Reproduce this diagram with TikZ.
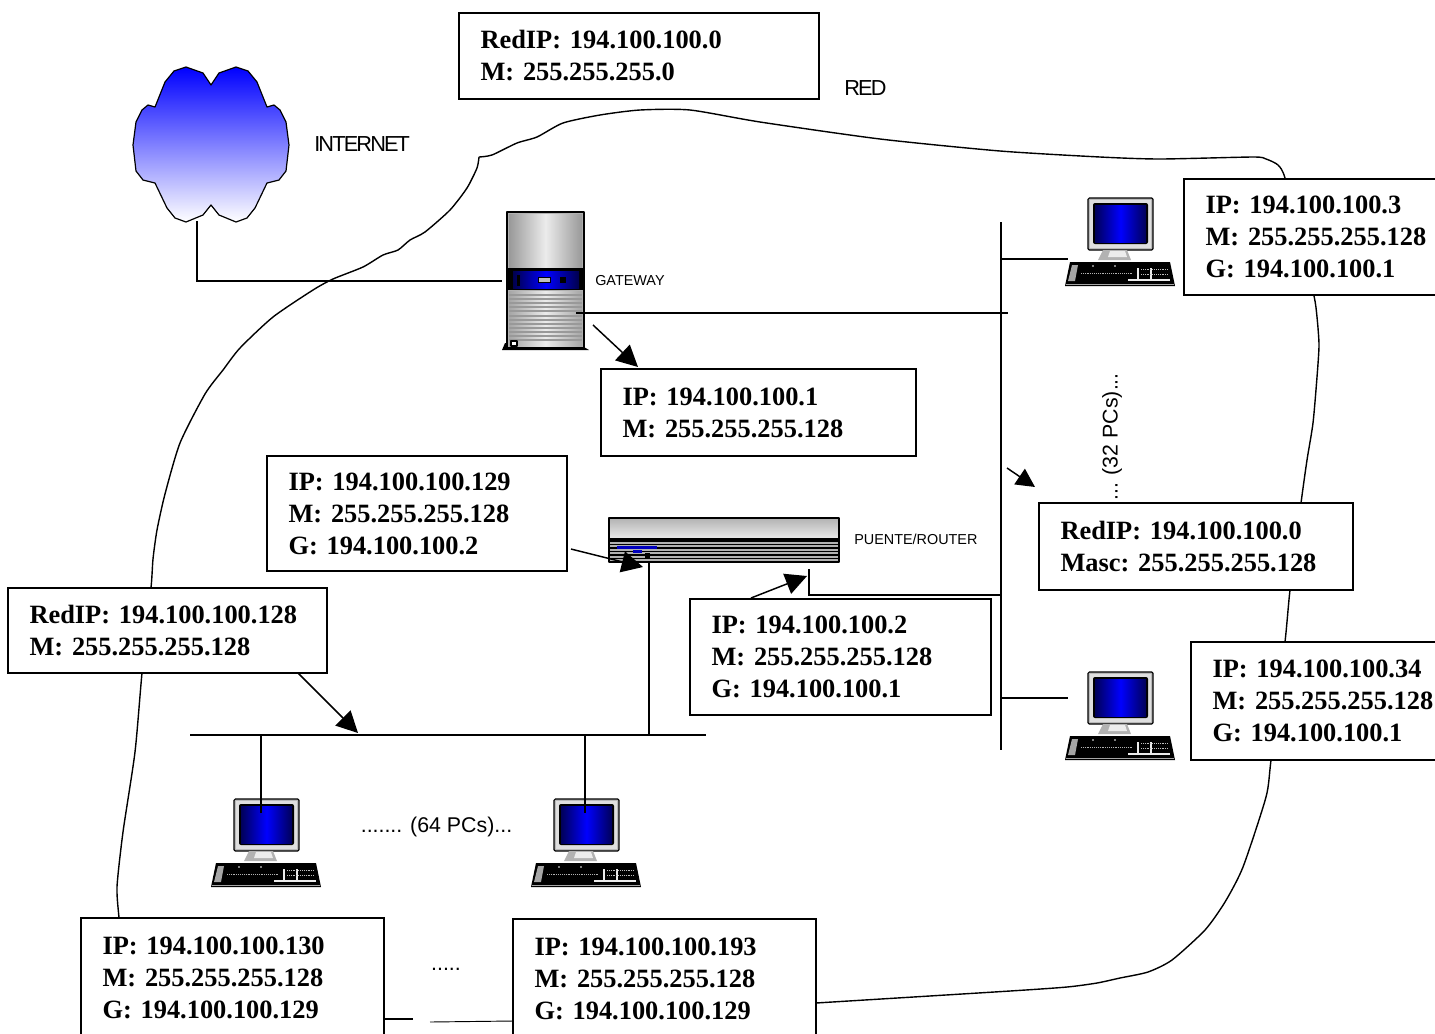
\documentclass[tikz,border=0pt]{standalone}
\usepackage{fontspec}
\setmainfont{Liberation Serif}
\setsansfont{Liberation Sans}
\newfontfamily\tightsans[LetterSpace=-8.5]{Liberation Sans}
\usetikzlibrary{arrows.meta}
\tikzset{
  x=0.75pt,y=-0.75pt,
  infobox/.style 2 args={draw=black,fill=white,line width=1.1pt,inner sep=0pt,align=left,
    minimum width={#1*0.75pt},minimum height={#2*0.75pt},text width={(#1-43)*0.75pt},
    font=\fontsize{19.8}{24}\selectfont\bfseries\frenchspacing},
  tightlabel/.style={inner sep=0pt,font=\tightsans\fontsize{16.3}{18}\selectfont},
  smalllabel/.style={inner sep=0pt,font=\sffamily\fontsize{10.8}{12}\selectfont},
  midlabel/.style={inner sep=0pt,font=\sffamily\fontsize{16}{18}\selectfont},
  wire/.style={line width=1.1pt,black},
  pointer/.style={line width=1.1pt,black,-{Triangle[length=16pt,width=16pt]}},
  outline/.style={line width=0.9pt,black,line join=round},
  pcunit/.pic={
    % monitor
    \path[outline,draw=black,fill=gray!55,rounded corners=1pt] (23,1) rectangle (88,53);
    \path[fill=gray!25] (25,3) rectangle (86,51);
    \path[fill=black,rounded corners=1.5pt] (28,6) rectangle (83,47);
    \shade[left color=blue!35!black,right color=blue!35!black,middle color=blue] (30,8) rectangle (81,45);
    % stand
    \path[outline,fill=gray!60] (38,53) -- (62,53) -- (66,63) -- (33,63) -- cycle;
    \path[fill=gray!15] (45,54) -- (60,54) -- (62,60) -- (43,60) -- cycle;
    % keyboard
    \path[outline,fill=black] (5,65) -- (105,65) -- (110,89) -- (0,89) -- cycle;
    \path[fill=gray!70] (7,68) -- (13,68) -- (10,84) -- (3,84) -- cycle;
    \path[fill=gray!70] (1,86.5) -- (109,86.5) -- (109,88) -- (1,88) -- cycle;
    \fill[white] (28,69) circle (0.9) (50,69) circle (0.9);
    \draw[gray!60,line width=0.4pt,densely dotted] (16,76) -- (68,76);
    \draw[gray!15,line width=0.9pt] (63,83) -- (105,83) (73,71) -- (73,83) (86,71) -- (86,83);
    \draw[gray!50,line width=0.4pt,densely dotted] (76,72) -- (103,72) (76,77) -- (103,77);
  }
}
\begin{document}
\begin{tikzpicture}
\useasboundingbox (0,0) rectangle (1435,1033);
\clip (0,0) rectangle (1435,1033);

% hand-drawn network outline
\draw[line width=1.05pt,line join=round] plot[smooth,tension=0.4] coordinates {
  (119,925) (119,918) (117,887) (123,832) (135,752) (142,673) (151,588) (153,559) (157,530)
  (165,494) (180,443) (205,394) (223,370) (240,348) (273,317) (313,290) (333,279) (363,267)
  (383,255) (398,250) (410,240) (425,232) (450,210) (467,188) (477,168) (479,157)};
\draw[line width=1.05pt,line join=round] plot[smooth,tension=0.4] coordinates {
  (479,157) (492,155) (517,143) (537,137) (563,123) (600,115) (640,110) (690,110) (760,122)
  (880,139) (1000,151) (1100,157) (1160,159) (1253,157) (1266,159) (1278,165) (1285,178)
  (1300,240) (1314,296) (1317,317) (1319,345) (1317,377) (1313,423) (1307,460) (1301,503)
  (1290,590) (1285,642) (1271,760) (1266,797) (1243,867) (1225,902) (1205,930) (1172,960)
  (1148,972) (1120,978) (1097,983) (1067,987) (1010,991) (816,1003) (800,1004)};

% cloud
\path[outline,top color=blue,bottom color=white,draw=black] (211,85) -- (219,73) -- (236,67) -- (248,71) -- (257,82) -- (267,107) -- (274,105) -- (280,110) -- (286,122) -- (289,145) -- (286,171) -- (279,180) -- (267,183) -- (255,208) -- (247,218) -- (236,222) -- (219,215) -- (211,205) -- (203,215) -- (186,222) -- (175,218) -- (167,208) -- (155,183) -- (143,180) -- (136,171) -- (133,145) -- (136,122) -- (142,110) -- (148,105) -- (155,107) -- (165,82) -- (174,71) -- (186,67) -- (203,73) -- cycle;
\node[inner sep=0pt,minimum width=117pt,minimum height=117pt] (cloud) at (211,145) {};
\node[tightlabel,anchor=west] (internet) at (314,144) {INTERNET};
\node[tightlabel,anchor=west] (redlabel) at (844,88) {RED};

% server
\node[inner sep=0pt,minimum width=66pt,minimum height=104pt] (server) at (545,281) {};
\path[outline,draw=black,fill=gray!60] (507,212) rectangle (584,348);
\shade[left color=gray!80,right color=gray!80,middle color=gray!15] (509,214) rectangle (582,267);
\path[fill=black] (508,268) rectangle (583,290);
\shade[left color=blue!30!black,right color=blue!30!black,middle color=blue] (513,271) rectangle (579,288);
\path[fill=black] (517,275) rectangle (520,286);
\path[fill=gray!50,draw=black,line width=0.4pt] (538,277) rectangle (550,282);
\path[fill=black] (560,277) rectangle (566,283);
\shade[left color=gray!70,right color=gray!70,middle color=gray!15] (509,291) rectangle (582,346);
\foreach \yy in {295,299,303,307,311,316,320,324,328,332,336,340}
  \draw[gray!80,line width=0.9pt] (509,\yy) -- (582,\yy);
\path[outline,draw=black,fill=white] (511,341) rectangle (517,346);
\path[outline,fill=black] (502,350) -- (505,343) -- (507,343) -- (507,347) -- (584,347) -- (589,350) -- cycle;
\node[smalllabel,anchor=west] (gatewaylabel) at (595,281) {GATEWAY};

% router
\node[inner sep=0pt,minimum width=172pt,minimum height=33pt] (router) at (724,540) {};
\path[outline,draw=black,top color=gray!60,bottom color=gray!15] (609,518) rectangle (839,539);
\path[outline,draw=black,fill=gray!60] (609,539) rectangle (839,562);
\foreach \yy in {541,544.5,548,551.5,555,558.5}
  \draw[black,line width=0.9pt] (609,\yy) -- (839,\yy);
\path[fill=blue!75!black] (617,546) rectangle (657,549);
\path[fill=blue!75!black] (633,550) rectangle (642,552.5);
\path[fill=black] (645,553) rectangle (650,558);
\node[smalllabel,anchor=west] (routerlabel) at (854,539) {PUENTE/ROUTER};

% computers
\pic at (1065,197) {pcunit};
\pic at (1065,671) {pcunit};
\pic at (211,798) {pcunit};
\pic at (531,798) {pcunit};
\node[inner sep=0pt,minimum width=82pt,minimum height=68pt] (pca) at (1120,243) {};
\node[inner sep=0pt,minimum width=82pt,minimum height=68pt] (pcb) at (1120,717) {};
\node[inner sep=0pt,minimum width=82pt,minimum height=68pt] (pcc) at (266,844) {};
\node[inner sep=0pt,minimum width=82pt,minimum height=68pt] (pcd) at (586,844) {};

% text boxes
\node[infobox={360}{86}] (boxred) at (639,56) {RedIP:~194.100.100.0\\M:~255.255.255.0};
\node[infobox={258}{116}] (boxthree) at (1313,237) {IP:~194.100.100.3\\M:~255.255.255.128\\G:~194.100.100.1};
\node[infobox={315}{87}] (boxgw) at (758.5,412.5) {IP:~194.100.100.1\\M:~255.255.255.128};
\node[infobox={300}{115}] (boxrl) at (417,513.5) {IP:~194.100.100.129\\M:~255.255.255.128\\G:~194.100.100.2};
\node[infobox={319}{85}] (boxlow) at (167.5,630.5) {RedIP:~194.100.100.128\\M:~255.255.255.128};
\node[infobox={301}{116}] (boxrr) at (840.5,657) {IP:~194.100.100.2\\M:~255.255.255.128\\G:~194.100.100.1};
\node[infobox={314}{87}] (boxmasc) at (1196,546.5) {RedIP:~194.100.100.0\\Masc:~255.255.255.128};
\node[infobox={252}{118}] (boxlast) at (1317,701) {IP:~194.100.100.34\\M:~255.255.255.128\\G:~194.100.100.1};
\node[infobox={303}{120}] (boxc) at (232.5,978) {IP:~194.100.100.130\\M:~255.255.255.128\\G:~194.100.100.129};
\node[infobox={303}{120}] (boxd) at (664.5,979) {IP:~194.100.100.193\\M:~255.255.255.128\\G:~194.100.100.129};

% free labels
\node[midlabel] (sixtyfour) at (436.5,827) {....... (64 PCs)...};
\node[midlabel,rotate=90] (thirtytwo) at (1112,437) {... (32 PCs)...};
\node[midlabel] (dots) at (446,969) {.....};

% connector ends
\coordinate (cloudout) at (197,221);
\coordinate (srvin) at (502,281);
\coordinate (srvout) at (576,313);
\coordinate (srvtip) at (593,325);
\coordinate (gwtip) at (638,367);
\coordinate (bustop) at (1001,222);
\coordinate (busbot) at (1001,750);
\coordinate (busend) at (1008,313);
\coordinate (brA) at (1001,259);
\coordinate (brAend) at (1068,259);
\coordinate (brB) at (1001,698);
\coordinate (brBend) at (1068,698);
\coordinate (rlstart) at (571,549);
\coordinate (rltip) at (643,567);
\coordinate (rrstart) at (751,598);
\coordinate (rrtip) at (807,576);
\coordinate (rtout) at (809,569);
\coordinate (rtbus) at (1001,595);
\coordinate (rtdown) at (649,563);
\coordinate (lowL) at (190,735);
\coordinate (lowR) at (706,735);
\coordinate (lowjoin) at (649,735);
\coordinate (lowA) at (261,735);
\coordinate (lowAend) at (261,813);
\coordinate (lowB) at (585,735);
\coordinate (lowBend) at (585,813);
\coordinate (lbstart) at (298,673);
\coordinate (lbtip) at (358,733);
\coordinate (mstart) at (1007,468);
\coordinate (mtip) at (1035,487);
\coordinate (cdA) at (384,1019);
\coordinate (cdB) at (413,1019);
\coordinate (cdC) at (430,1022);
\coordinate (cdD) at (513,1021);

% connectors
\draw[wire] (cloudout) |- (srvin);
\draw[wire] (srvout) -- (busend);
\draw[pointer] (srvtip) -- (gwtip);
\draw[wire] (bustop) -- (busbot);
\draw[wire] (brA) -- (brAend);
\draw[wire] (brB) -- (brBend);
\draw[pointer] (rlstart) -- (rltip);
\draw[pointer] (rrstart) -- (rrtip);
\draw[wire] (rtout) |- (rtbus);
\draw[wire] (rtdown) -- (lowjoin);
\draw[wire] (lowL) -- (lowR);
\draw[wire] (lowA) -- (lowAend);
\draw[wire] (lowB) -- (lowBend);
\draw[pointer] (lbstart) -- (lbtip);
\draw[line width=1.1pt,black,-{Triangle[length=14pt,width=14pt]}] (mstart) -- (mtip);
\draw[wire] (cdA) -- (cdB);
\draw[line width=0.7pt] (cdC) -- (cdD);
\end{tikzpicture}
\end{document}
